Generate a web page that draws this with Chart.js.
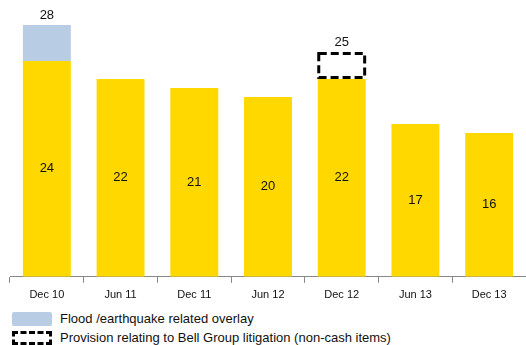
<!DOCTYPE html>
<html>
<head>
<meta charset="utf-8">
<script src="https://cdn.jsdelivr.net/npm/chart.js@4"></script>
<style>
  body { margin: 0; background: #fff; font-family: "Liberation Sans", Arial, sans-serif; }
  #wrap { position: relative; width: 526px; height: 308px; }
  .legend { position: absolute; left: 12px; font-size: 13px; color: #111; display: flex; align-items: center; }
  .sw { width: 40px; height: 14px; margin-right: 8px; box-sizing: border-box; }
</style>
</head>
<body>
<div id="wrap"><canvas id="chart" width="526" height="308"></canvas></div>
<div class="legend" style="top:311px;"><div class="sw" style="background:#b8cce4;border-radius:2px;"></div>Flood /earthquake related overlay</div>
<div class="legend" style="top:330px;"><div class="sw" style="border:3px dashed #000;"></div>Provision relating to Bell Group litigation (non-cash items)</div>
<script>
document.addEventListener("DOMContentLoaded", function () {
    // --- DATA ---
    const periods = ["Dec 10", "Jun 11", "Dec 11", "Jun 12", "Dec 12", "Jun 13", "Dec 13"];
    const baseValues = [24, 22, 21, 20, 22, 17, 16];
    const overlayValues = [4, 0, 0, 0, 0, 0, 0];
    const provisionValues = [0, 0, 0, 0, 3, 0, 0];
    const totalLabels = ["28", "", "", "", "25", "", ""];

    // labels in the middle of the yellow bars + totals on top
    const labelPlugin = {
        id: "barLabels",
        afterDatasetsDraw(chart) {
            const ctx = chart.ctx;
            const base = chart.getDatasetMeta(0).data;
            const over = chart.getDatasetMeta(1).data;
            const prov = chart.getDatasetMeta(2).data;
            ctx.save();
            ctx.fillStyle = "#111";
            ctx.font = "13px 'Liberation Sans', Arial, sans-serif";
            ctx.textAlign = "center";
            ctx.textBaseline = "middle";
            base.forEach((bar, i) => {
                ctx.fillText(String(baseValues[i]), bar.x, (bar.y + bar.base) / 2);
                if (totalLabels[i]) {
                    let top = bar.y;
                    if (overlayValues[i]) top = Math.min(top, over[i].y);
                    if (provisionValues[i]) top = Math.min(top, prov[i].y);
                    ctx.fillText(totalLabels[i], bar.x, top - 10);
                }
            });
            // dashed box for the provision
            ctx.strokeStyle = "#000";
            ctx.lineWidth = 3;
            ctx.setLineDash([8, 4]);
            prov.forEach((bar, i) => {
                if (!provisionValues[i]) return;
                const w = bar.width;
                ctx.strokeRect(bar.x - w / 2 + 1, bar.y + 1.5, w - 2, bar.base - bar.y - 3);
            });
            ctx.restore();
        }
    };

    const ctxChart = document.getElementById("chart").getContext("2d");
    new Chart(ctxChart, {
        type: "bar",
        data: {
            labels: periods,
            datasets: [
                { data: baseValues, backgroundColor: "#ffd800" },
                { data: overlayValues, backgroundColor: "#b8cce4" },
                { data: provisionValues, backgroundColor: "rgba(0,0,0,0)" }
            ]
        },
        options: {
            responsive: false,
            animation: false,
            maintainAspectRatio: false,
            layout: { padding: { left: 10, right: 0, top: 7, bottom: 0 } },
            plugins: { legend: { display: false }, tooltip: { enabled: false } },
            datasets: { bar: { barPercentage: 0.65, categoryPercentage: 1 } },
            scales: {
                x: {
                    stacked: true,
                    grid: { display: true, drawOnChartArea: false, offset: true, tickLength: 6, color: "#888" },
                    border: { display: true, color: "#888" },
                    ticks: { color: "#111", font: { size: 11, family: "'Liberation Sans', Arial, sans-serif" }, padding: 6 }
                },
                y: {
                    stacked: true,
                    display: false,
                    min: 0,
                    max: 30
                }
            }
        },
        plugins: [labelPlugin]
    });
});
</script>
</body>
</html>
